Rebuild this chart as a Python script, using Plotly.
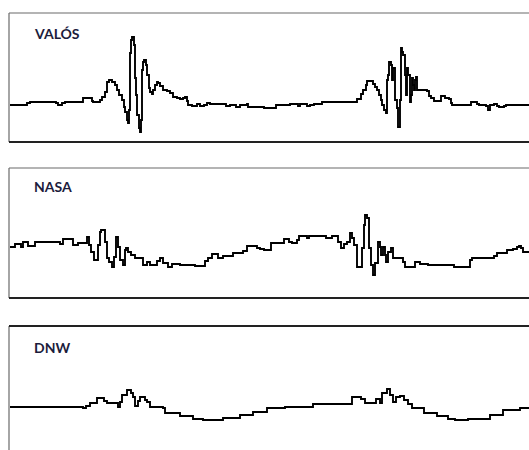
import plotly.graph_objects as go

# Sample index (time axis) and amplitude for each recording
valos_t = [1, 18, 21, 47, 49, 53, 56, 74, 83, 84, 91, 93, 96, 98, 100, 103, 106, 108, 110, 113,
           115, 116, 118, 119, 120, 121, 122, 123, 125, 126, 127, 128, 130, 131, 132, 133, 134, 135,
           137, 138, 140, 141, 143, 144, 146, 148, 149, 151, 154, 158, 161, 164, 168, 171, 174, 176,
           178, 179, 183, 188, 191, 195, 198, 201, 211, 217, 221, 227, 231, 238, 239, 255, 267, 281,
           289, 291, 298, 301, 305, 313, 347, 348, 352, 354, 357, 358, 362, 364, 366, 368, 370, 372,
           373, 375, 377, 378, 379, 380, 382, 383, 384, 386, 388, 389, 391, 392, 393, 394, 396, 397,
           398, 399, 401, 402, 403, 404, 405, 406, 407, 408, 418, 420, 422, 425, 430, 432, 436, 440,
           442, 443, 453, 462, 468, 470, 477, 479, 481, 485, 488, 490, 495, 497, 520]
valos_v = [0, 2, 3, 2, 0, 2, 3, 7, 4, 3, 5, 8, 13, 23, 25, 23, 20, 15, 10, 5,
           -2, -7, -15, -18, -5, 52, 65, 68, 60, 27, 10, -10, -23, -27, -15, 35, 43, 45,
           40, 30, 17, 13, 11, 15, 20, 23, 22, 19, 15, 14, 12, 8, 7, 6, 7, 8,
           4, 0, -1, 1, -1, 0, 2, 1, 1, -1, 0, -2, 0, 1, -2, -3, 0, 1,
           -1, 1, -1, 0, 1, 3, 3, 6, 11, 15, 20, 24, 24, 21, 18, 15, 10, 5,
           0, -5, -8, 25, 30, 43, 40, 25, 37, 5, -3, -22, 5, 57, 53, 50, 30, 10,
           37, 30, 3, 10, 27, 20, 15, 25, 28, 15, 14, 9, 7, 4, 4, 9, 7, 6,
           2, 0, 0, 3, 1, 0, -1, -5, 0, 1, -1, -2, -1, 0, 0]

nasa_t = [1, 6, 12, 14, 19, 26, 51, 54, 64, 69, 78, 80, 82, 85, 89, 91, 92, 96, 98, 100,
          103, 105, 107, 109, 111, 114, 116, 117, 119, 122, 126, 134, 138, 141, 148, 151, 154, 159,
          163, 171, 186, 196, 199, 203, 209, 214, 224, 234, 238, 248, 251, 255, 262, 275, 280, 283,
          288, 290, 298, 300, 317, 323, 329, 332, 335, 338, 341, 343, 345, 348, 352, 353, 355, 356,
          358, 360, 362, 364, 366, 369, 371, 372, 374, 376, 377, 379, 382, 384, 394, 396, 406, 411,
          419, 434, 445, 461, 463, 485, 488, 498, 504, 508, 510, 512, 514, 520]
nasa_v = [3, 6, 3, 8, 4, 8, 6, 11, 5, 7, 13, 5, -2, -10, 5, 18, 20, 8, -8, -12,
          -17, -7, 13, 3, -10, -15, 0, 2, -2, -5, -8, -15, -12, -15, -11, -8, -13, -17,
          -14, -15, -16, -11, -8, -4, -8, -6, -3, -1, 4, 2, 1, 0, 7, 11, 8, 7,
          10, 14, 12, 14, 12, 14, 8, 2, 6, 8, 17, 12, 5, -17, -17, 2, 25, 35,
          32, 2, -15, -25, -13, 8, 3, -5, 3, -5, -12, -2, 2, -8, -12, -17, -12, -14,
          -15, -15, -17, -10, -8, -6, -3, 0, 1, 3, 4, 2, -2, -2]

dnw_t = [1, 74, 77, 81, 88, 95, 98, 109, 111, 113, 118, 122, 124, 126, 129, 131, 136, 138, 141,
         154, 156, 171, 184, 194, 214, 231, 244, 258, 276, 304, 343, 352, 356, 363, 367, 371, 373,
         378, 381, 384, 387, 391, 395, 399, 403, 415, 428, 439, 446, 459, 481, 494, 511, 520]
dnw_v = [0, -1, 1, 4, 9, 6, 4, 0, 5, 12, 17, 14, 10, 1, 6, 10, 7, 5, 0,
         -1, -6, -9, -12, -13, -11, -8, -5, -1, 0, 3, 10, 8, 4, 4, 8, 4, 14,
         18, 12, 5, 10, 11, 7, 3, -1, -6, -9, -12, -13, -12, -8, -3, -1, -1]

titles = ["VALÓS", "NASA", "DNW"]
series = [(valos_t, valos_v), (nasa_t, nasa_v), (dnw_t, dnw_v)]

W, H = 529, 450
x_left = 9 / W
# panel extents in pixels (top, bottom) and amplitude range shown
panel_px = [(13, 142), (168, 298), (326, 450)]
y_ranges = [[-37, 92], [-48, 82], [-43, 81]]

fig = go.Figure()
for i, ((t, v), (top, bot), yr) in enumerate(zip(series, panel_px, y_ranges)):
    n = "" if i == 0 else str(i + 1)
    fig.add_trace(go.Scatter(
        x=t, y=v, mode="lines", line=dict(color="black", width=1.9, shape="hv"),
        xaxis="x" + n, yaxis="y" + n, showlegend=False, hoverinfo="skip"))
    dom = [1 - bot / H, 1 - top / H]
    fig.layout["xaxis" + n] = dict(domain=[x_left, 1], range=[0, 520], visible=False,
                                   anchor="y" + n)
    fig.layout["yaxis" + n] = dict(domain=dom, range=yr, visible=False, anchor="x" + n)

shapes = []
label_y = [33, 186, 347]
for i, (top, bot) in enumerate(panel_px):
    yt, yb = 1 - top / H, 1 - bot / H
    # left edge
    shapes.append(dict(type="line", xref="paper", yref="paper", x0=x_left, x1=x_left,
                       y0=yb, y1=yt, line=dict(color="#6a6a6a", width=1.2)))
    # top edge
    shapes.append(dict(type="line", xref="paper", yref="paper", x0=x_left, x1=1.01,
                       y0=yt, y1=yt,
                       line=dict(color="#222" if i == 2 else "#6a6a6a",
                                 width=2 if i == 2 else 1.2)))
    # bottom edge
    if bot < H:
        shapes.append(dict(type="line", xref="paper", yref="paper", x0=x_left, x1=1.01,
                           y0=yb, y1=yb, line=dict(color="#222", width=2)))

annotations = [dict(text=f"<b>{t}</b>", xref="paper", yref="paper", x=32 / W,
                    y=1 - ly / H, xanchor="left", yanchor="middle", showarrow=False,
                    font=dict(family="Lato, Open Sans, sans-serif", size=14, color="#1c1c3c"))
               for t, ly in zip(titles, label_y)]

fig.update_layout(width=W, height=H, margin=dict(l=0, r=0, t=0, b=0),
                  paper_bgcolor="white", plot_bgcolor="white",
                  shapes=shapes, annotations=annotations)

fig.write_html("out.html")
